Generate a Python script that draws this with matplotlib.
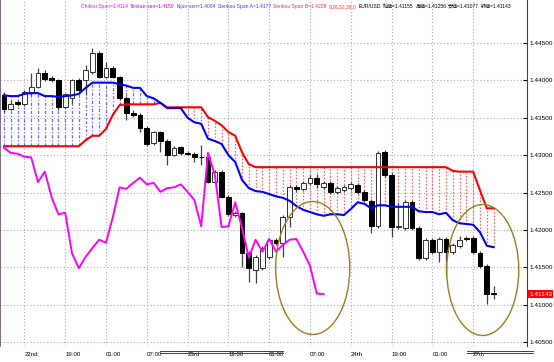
import matplotlib
matplotlib.use('Agg')
import matplotlib.pyplot as plt
import numpy as np
from matplotlib.patches import Ellipse
from matplotlib.lines import Line2D
import matplotlib.transforms as mtransforms

# EUR/USD H1 candles (bar index 0..72)
opens = [1.4380, 1.4362, 1.4371, 1.4368, 1.4383, 1.4391, 1.4410, 1.4403, 1.4401, 1.4364,
         1.4376, 1.4401, 1.4401, 1.4411, 1.4437, 1.4405, 1.4417, 1.4405, 1.4376, 1.4356,
         1.4354, 1.4336, 1.4316, 1.4331, 1.4319, 1.4300, 1.4311, 1.4303, 1.4302, 1.4298,
         1.4297, 1.4264, 1.4278, 1.4244, 1.4220, 1.4223, 1.4169, 1.4147, 1.4149, 1.4164,
         1.4187, 1.4183, 1.4217, 1.4257, 1.4255, 1.4263, 1.4270, 1.4257, 1.4263, 1.4251,
         1.4253, 1.4256, 1.4260, 1.4251, 1.4239, 1.4205, 1.4304, 1.4274, 1.4204, 1.4203,
         1.4237, 1.4203, 1.4163, 1.4187, 1.4171, 1.4188, 1.4171, 1.4179, 1.4189, 1.4189,
         1.4169, 1.4152, 1.41155]
highs = [1.4384, 1.4374, 1.4374, 1.4387, 1.4410, 1.4417, 1.4414, 1.4406, 1.4402, 1.4383,
         1.4402, 1.4403, 1.4421, 1.4443, 1.4439, 1.4425, 1.4419, 1.4406, 1.4379, 1.4360,
         1.4356, 1.4339, 1.4332, 1.4332, 1.4322, 1.4312, 1.4312, 1.4306, 1.4304, 1.4314,
         1.4303, 1.4280, 1.4280, 1.4247, 1.4225, 1.4224, 1.4172, 1.4167, 1.4179, 1.4189,
         1.4189, 1.4220, 1.4260, 1.4260, 1.4266, 1.4274, 1.4275, 1.4266, 1.4266, 1.4259,
         1.4260, 1.4264, 1.4263, 1.4253, 1.4241, 1.4306, 1.4307, 1.4276, 1.4236, 1.4240,
         1.4240, 1.4205, 1.4189, 1.4189, 1.4191, 1.4191, 1.4183, 1.4192, 1.4192, 1.4192,
         1.4172, 1.4155, 1.41256]
lows = [1.4358, 1.4360, 1.4366, 1.4366, 1.4380, 1.4390, 1.4399, 1.4398, 1.4360, 1.4363,
        1.4370, 1.4384, 1.4380, 1.4409, 1.4403, 1.4403, 1.4403, 1.4374, 1.4347, 1.4351,
        1.4331, 1.4312, 1.4314, 1.4304, 1.4287, 1.4299, 1.4300, 1.4300, 1.4291, 1.4287,
        1.4263, 1.4261, 1.4243, 1.4219, 1.4217, 1.4151, 1.4130, 1.4129, 1.4147, 1.4161,
        1.4180, 1.4164, 1.4204, 1.4251, 1.4252, 1.4260, 1.4256, 1.4255, 1.4248, 1.4248,
        1.4251, 1.4253, 1.4248, 1.4237, 1.4196, 1.4203, 1.4271, 1.4191, 1.4201, 1.4200,
        1.4200, 1.4160, 1.4160, 1.4168, 1.4157, 1.4140, 1.4168, 1.4176, 1.4185, 1.4168,
        1.4149, 1.4101, 1.41077]
closes = [1.4362, 1.4368, 1.4368, 1.4384, 1.4391, 1.4410, 1.4402, 1.4401, 1.4364, 1.4382,
          1.4401, 1.4387, 1.4414, 1.4437, 1.4405, 1.4417, 1.4405, 1.4376, 1.4356, 1.4354,
          1.4336, 1.4315, 1.4331, 1.4319, 1.4300, 1.4310, 1.4303, 1.4302, 1.4298, 1.4297,
          1.4264, 1.4278, 1.4244, 1.4221, 1.4223, 1.4169, 1.4149, 1.4164, 1.4176, 1.4187,
          1.4183, 1.4217, 1.4257, 1.4255, 1.4263, 1.4270, 1.4261, 1.4263, 1.4251, 1.4256,
          1.4257, 1.4261, 1.4251, 1.4240, 1.4205, 1.4303, 1.4274, 1.4204, 1.4205, 1.4237,
          1.4203, 1.4163, 1.4187, 1.4171, 1.4188, 1.4171, 1.4180, 1.4187, 1.4188, 1.4171,
          1.4152, 1.4115, 1.41143]

# cloud lines
senkou_a = [1.4380, 1.4379, 1.4379, 1.4382, 1.4383, 1.4383, 1.4379, 1.4379, 1.4378, 1.4379,
            1.4380, 1.4382, 1.4390, 1.4397, 1.4397, 1.4397, 1.4397, 1.4395, 1.4393, 1.4390,
            1.4390, 1.4379, 1.4376, 1.4370, 1.4363, 1.4363, 1.4363, 1.4350, 1.4344, 1.4342,
            1.4322, 1.4319, 1.4315, 1.4300, 1.4291, 1.4267, 1.4256, 1.4252, 1.4251, 1.4248,
            1.4245, 1.4243, 1.4239, 1.4232, 1.4227, 1.4224, 1.4221, 1.4219, 1.4221, 1.4221,
            1.4220, 1.4228, 1.4237, 1.4235, 1.4229, 1.4233, 1.4233, 1.4231, 1.4231, 1.4231,
            1.4231, 1.4225, 1.4224, 1.4224, 1.4221, 1.4223, 1.4213, 1.4209, 1.4208, 1.4207,
            1.4197, 1.4179, 1.4177]
senkou_b = [1.4312] * 12 + [1.4320, 1.4326, 1.4326, 1.4335, 1.4354, 1.4367] + \
    [1.4368] * 5 + [1.4370] + [1.4364] * 6 + \
    [1.4351, 1.4346, 1.4340, 1.4331, 1.4326, 1.4304, 1.4288] + \
    [1.4284] * 29 + [1.4279, 1.4278, 1.4278, 1.4278, 1.4253, 1.4229, 1.4229]

chikou_shift = 25
time_labels = ['22nd', '19:00', '01:00', '07:00', '23rd', '19:00',
               '01:00', '07:00', '24th', '19:00', '01:00', '27th']
price_ticks = [1.405, 1.410, 1.415, 1.420, 1.425, 1.430, 1.435, 1.440, 1.445]

header = [
    ('Chikou Span=1.4114', '#ff00ff'),
    ('Tenkan-sen=1.4150', '#cc00cc'),
    ('Kijun-sen=1.4084', '#5a3ccc'),
    ('Senkou Span A=1.4177', '#3c3cff'),
    ('Senkou Span B=1.4229', '#ff3030'),
    ('9,26,52,26,0', '#ff3030'),
    ('EUR/USD', 'black'),
    ('始値=1.41155', 'black'),
    ('高値=1.41256', 'black'),
    ('安値=1.41077', 'black'),
    ('終値=1.41143', 'black'),
]

W, H = 554, 362
FONT = ['Liberation Sans', 'Noto Sans CJK JP']

fig = plt.figure(figsize=(W / 100, H / 100), dpi=100)
ax = fig.add_axes([0, 16 / H, 527 / W, 346 / H])

x = np.arange(len(closes))
o = np.array(opens)
c = np.array(closes)
hi = np.array(highs)
lo = np.array(lows)
sa = np.array(senkou_a)
sb = np.array(senkou_b)

# [00] cloud hatch -----------------------------------------------------------
up = sa >= sb
ax.vlines(x[up], sb[up], sa[up], colors='#6a6aff', linewidth=0.9,
          linestyles=(0, (2.5, 1.5, 1, 1.5)), zorder=1)
ax.vlines(x[~up], sa[~up], sb[~up], colors='#ff5a5a', linewidth=0.9,
          linestyles=(0, (1.2, 1.5)), zorder=1)

# [01] candles ---------------------------------------------------------------
ax.vlines(x, lo, hi, colors='#404040', linewidth=0.9, zorder=2)
bull = c >= o
body = np.maximum(np.abs(c - o), 0.00004)
ax.bar(x[bull], body[bull], bottom=np.minimum(o, c)[bull], width=0.72,
       color='white', edgecolor='#303030', linewidth=0.7, zorder=3)
ax.bar(x[~bull], body[~bull], bottom=np.minimum(o, c)[~bull], width=0.72,
       color='black', edgecolor='black', linewidth=0.7, zorder=3)

# [02] lines -----------------------------------------------------------------
ax.plot(x, sb, color='#ff0000', linewidth=1.5, zorder=4)
ax.plot(x, sa, color='#0000ff', linewidth=1.5, zorder=4)
chikou = c[chikou_shift:]
ax.plot(x[:len(chikou)], chikou, color='#ff00ff', linewidth=1.4, zorder=4)

# circles drawn on the chart
ax.add_patch(Ellipse((45.4, 1.41492), 10.9, 0.01778, fill=False,
                     edgecolor='#9a7d1e', linewidth=1.0, zorder=5))
ax.add_patch(Ellipse((70.4, 1.41465), 10.6, 0.01751, fill=False,
                     edgecolor='#9a7d1e', linewidth=1.0, zorder=5))

# [03] axes ------------------------------------------------------------------
ax.set_xlim(-4 / 6.8, 523 / 6.8)
ax.set_ylim(1.40449, 1.45075)
grid_bars = [3 + 6 * k for k in range(len(time_labels))]
ax.set_xticks(grid_bars)
ax.set_xticklabels(time_labels, ha='left', fontsize=4.4, family=FONT)
ax.tick_params(axis='x', length=0, pad=4, colors='black')
ax.yaxis.tick_right()
ax.set_yticks(price_ticks)
ax.set_yticklabels([f'{p:.5f}' for p in price_ticks], fontsize=4.6,
                   family=FONT)
ax.tick_params(axis='y', direction='in', length=3, width=0.8, pad=1.5,
               colors='black')
ax.grid(True, color='#a8a8c8', linestyle=(0, (1, 2)), linewidth=0.8)
ax.set_axisbelow(True)
for s in ['top', 'bottom']:
    ax.spines[s].set_visible(False)
ax.spines['right'].set_color('#404040')
ax.spines['left'].set_color('#705070')
ax.spines['left'].set_linewidth(1.2)

# current price box
trans = mtransforms.blended_transform_factory(ax.transAxes, ax.transData)
ax.text(1.004, closes[-1], f'{closes[-1]:.5f}', transform=trans, ha='left',
        va='center', fontsize=4.6, family=FONT, color='white',
        bbox=dict(facecolor='#ff0000', edgecolor='none', pad=0.9), zorder=6,
        clip_on=False)

# [04] header text, laid out left to right -----------------------------------
renderer = fig.canvas.get_renderer()
xpos = 81
for txt, col in header:
    t = fig.text(xpos / W, 1 - 6.5 / H, txt, ha='left', va='center',
                 fontsize=3.65, color=col, family=FONT)
    bb = t.get_window_extent(renderer)
    xpos = bb.x1 + 2.0

# double rules under the time scale
for x0, x1 in [(160, 283), (467, 533)]:
    for yy in [350.5, 353]:
        fig.add_artist(Line2D([x0 / W, x1 / W], [1 - yy / H, 1 - yy / H],
                              color='#404040', linewidth=0.7))

fig.savefig('out.png', dpi=100)
